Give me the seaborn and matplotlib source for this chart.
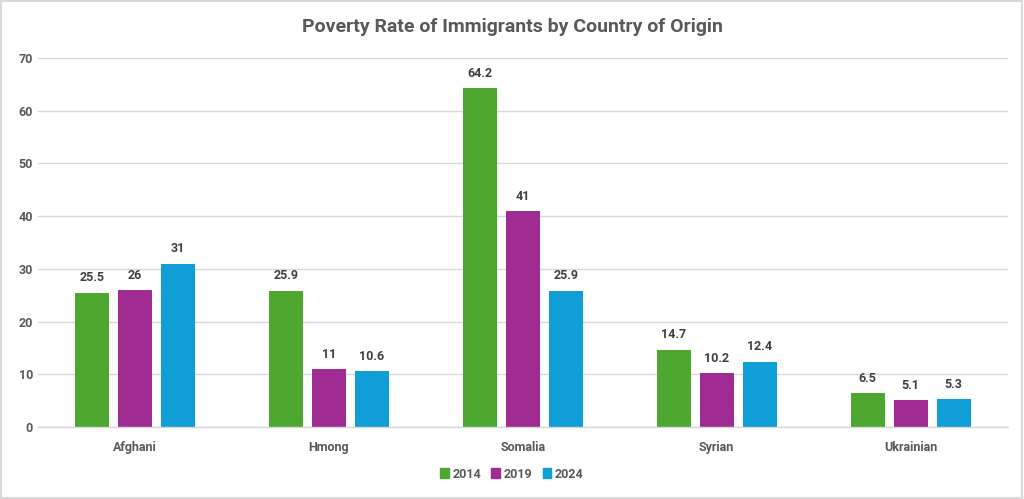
import matplotlib
matplotlib.use("Agg")
import matplotlib.pyplot as plt
import seaborn as sns
import pandas as pd
from matplotlib.patches import Rectangle

categories = ["Afghani", "Hmong", "Somalia", "Syrian", "Ukrainian"]
years = ["2014", "2019", "2024"]
v2014 = [25.5, 25.9, 64.2, 14.7, 6.5]
v2019 = [26, 11, 41, 10.2, 5.1]
v2024 = [31, 10.6, 25.9, 12.4, 5.3]
colors = ["#4EA72E", "#A02B93", "#0F9ED5"]

rows = []
for y, vals in zip(years, [v2014, v2019, v2024]):
    for c, v in zip(categories, vals):
        rows.append({"Country": c, "Year": y, "Rate": v})
df = pd.DataFrame(rows)

sns.set_theme(style="white")
plt.rcParams['font.family'] = ['Roboto', 'DejaVu Sans']

fig = plt.figure(figsize=(10.24, 4.99), dpi=100)
ax = fig.add_axes([0.037, 0.144, 0.947, 0.74])
sns.barplot(data=df, x="Country", y="Rate", hue="Year", order=categories,
            hue_order=years, palette=colors, width=0.665, gap=0.21,
            saturation=1, ax=ax, errorbar=None, linewidth=0)

ax.set_ylim(0, 70)
ax.set_xlim(-0.5, 4.5)
ax.set_yticks(range(0, 71, 10))
ax.yaxis.grid(True, color="#D9D9D9", linewidth=1)
ax.set_axisbelow(True)
for s in ["top", "right", "left"]:
    ax.spines[s].set_visible(False)
ax.spines["bottom"].set_color("#D9D9D9")
ax.spines["bottom"].set_linewidth(1)
ax.tick_params(axis="both", length=0, labelsize=9, labelcolor="#595959")
ax.tick_params(axis="x", pad=10)
for lbl in ax.get_xticklabels() + ax.get_yticklabels():
    lbl.set_fontweight("bold")
ax.set_xlabel("")
ax.set_ylabel("")

for cont in ax.containers:
    labels = [f"{v:g}" for v in cont.datavalues]
    ax.bar_label(cont, labels=labels, padding=6, fontsize=9, fontweight="bold", color="#404040")

ax.legend_.remove()
handles = [Rectangle((0, 0), 1, 1, color=c) for c in colors]
leg = fig.legend(handles, years, loc="center", bbox_to_anchor=(0.5, 0.05), ncol=3,
                 frameon=False, fontsize=9, handlelength=0.7, handleheight=0.9,
                 handletextpad=0.3, columnspacing=0.8, labelcolor="#595959",
                 prop={"weight": "bold", "size": 9})

fig.text(0.5, 0.945, "Poverty Rate of Immigrants by Country of Origin",
         ha="center", va="center", fontsize=14, color="#595959", fontweight="semibold")

fig.patches.append(Rectangle((0.001, 0.002), 0.997, 0.995, transform=fig.transFigure,
                             fill=False, edgecolor="#D9D9D9", linewidth=1.5))

fig.savefig("out.png", dpi=100)
